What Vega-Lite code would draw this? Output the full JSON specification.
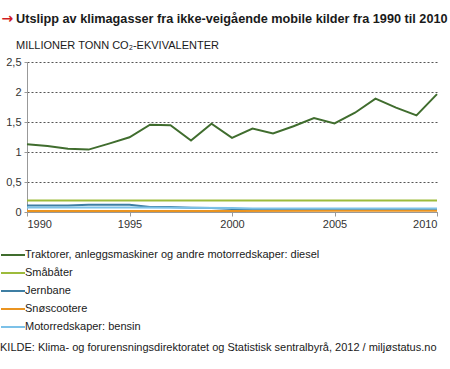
{
  "$schema": "https://vega.github.io/schema/vega-lite/v6.json",
  "width": 410,
  "height": 150,
  "autosize": {"type": "none"},
  "padding": {"left": 27, "top": 62, "right": 13, "bottom": 157},
  "background": "white",
  "config": {
    "font": "Liberation Sans",
    "view": {"stroke": null}
  },
  "title": {
    "text": "Utslipp av klimagasser fra ikke-veigående mobile kilder fra 1990 til 2010",
    "subtitle": "MILLIONER TONN CO₂-EKVIVALENTER",
    "anchor": "start",
    "frame": "bounds",
    "dx": 16,
    "fontSize": 12.7,
    "fontWeight": "bold",
    "color": "#1a1a1a",
    "limit": 1000,
    "subtitleFontSize": 11,
    "subtitleColor": "#1a1a1a",
    "subtitlePadding": 14,
    "offset": -40
  },
  "data": {
    "values": [
      {"year": 1990, "series": "Traktorer, anleggsmaskiner og andre motorredskaper: diesel", "value": 1.13},
      {"year": 1991, "series": "Traktorer, anleggsmaskiner og andre motorredskaper: diesel", "value": 1.10},
      {"year": 1992, "series": "Traktorer, anleggsmaskiner og andre motorredskaper: diesel", "value": 1.055},
      {"year": 1993, "series": "Traktorer, anleggsmaskiner og andre motorredskaper: diesel", "value": 1.04},
      {"year": 1994, "series": "Traktorer, anleggsmaskiner og andre motorredskaper: diesel", "value": 1.14},
      {"year": 1995, "series": "Traktorer, anleggsmaskiner og andre motorredskaper: diesel", "value": 1.245},
      {"year": 1996, "series": "Traktorer, anleggsmaskiner og andre motorredskaper: diesel", "value": 1.455},
      {"year": 1997, "series": "Traktorer, anleggsmaskiner og andre motorredskaper: diesel", "value": 1.445},
      {"year": 1998, "series": "Traktorer, anleggsmaskiner og andre motorredskaper: diesel", "value": 1.19},
      {"year": 1999, "series": "Traktorer, anleggsmaskiner og andre motorredskaper: diesel", "value": 1.47},
      {"year": 2000, "series": "Traktorer, anleggsmaskiner og andre motorredskaper: diesel", "value": 1.235},
      {"year": 2001, "series": "Traktorer, anleggsmaskiner og andre motorredskaper: diesel", "value": 1.39},
      {"year": 2002, "series": "Traktorer, anleggsmaskiner og andre motorredskaper: diesel", "value": 1.31},
      {"year": 2003, "series": "Traktorer, anleggsmaskiner og andre motorredskaper: diesel", "value": 1.43},
      {"year": 2004, "series": "Traktorer, anleggsmaskiner og andre motorredskaper: diesel", "value": 1.565},
      {"year": 2005, "series": "Traktorer, anleggsmaskiner og andre motorredskaper: diesel", "value": 1.475},
      {"year": 2006, "series": "Traktorer, anleggsmaskiner og andre motorredskaper: diesel", "value": 1.655},
      {"year": 2007, "series": "Traktorer, anleggsmaskiner og andre motorredskaper: diesel", "value": 1.89},
      {"year": 2008, "series": "Traktorer, anleggsmaskiner og andre motorredskaper: diesel", "value": 1.74},
      {"year": 2009, "series": "Traktorer, anleggsmaskiner og andre motorredskaper: diesel", "value": 1.61},
      {"year": 2010, "series": "Traktorer, anleggsmaskiner og andre motorredskaper: diesel", "value": 1.965},
      {"year": 1990, "series": "Småbåter", "value": 0.19},
      {"year": 1995, "series": "Småbåter", "value": 0.19},
      {"year": 2000, "series": "Småbåter", "value": 0.19},
      {"year": 2005, "series": "Småbåter", "value": 0.19},
      {"year": 2010, "series": "Småbåter", "value": 0.19},
      {"year": 1990, "series": "Jernbane", "value": 0.11},
      {"year": 1991, "series": "Jernbane", "value": 0.11},
      {"year": 1992, "series": "Jernbane", "value": 0.11},
      {"year": 1993, "series": "Jernbane", "value": 0.122},
      {"year": 1994, "series": "Jernbane", "value": 0.122},
      {"year": 1995, "series": "Jernbane", "value": 0.122},
      {"year": 1996, "series": "Jernbane", "value": 0.085},
      {"year": 1997, "series": "Jernbane", "value": 0.082},
      {"year": 1998, "series": "Jernbane", "value": 0.07},
      {"year": 1999, "series": "Jernbane", "value": 0.065},
      {"year": 2000, "series": "Jernbane", "value": 0.05},
      {"year": 2001, "series": "Jernbane", "value": 0.035},
      {"year": 2002, "series": "Jernbane", "value": 0.035},
      {"year": 2003, "series": "Jernbane", "value": 0.035},
      {"year": 2004, "series": "Jernbane", "value": 0.035},
      {"year": 2005, "series": "Jernbane", "value": 0.035},
      {"year": 2006, "series": "Jernbane", "value": 0.035},
      {"year": 2007, "series": "Jernbane", "value": 0.035},
      {"year": 2008, "series": "Jernbane", "value": 0.035},
      {"year": 2009, "series": "Jernbane", "value": 0.035},
      {"year": 2010, "series": "Jernbane", "value": 0.035},
      {"year": 1990, "series": "Snøscootere", "value": 0.015},
      {"year": 1995, "series": "Snøscootere", "value": 0.015},
      {"year": 2000, "series": "Snøscootere", "value": 0.015},
      {"year": 2005, "series": "Snøscootere", "value": 0.02},
      {"year": 2010, "series": "Snøscootere", "value": 0.02},
      {"year": 1990, "series": "Motorredskaper: bensin", "value": 0.075},
      {"year": 1995, "series": "Motorredskaper: bensin", "value": 0.075},
      {"year": 2000, "series": "Motorredskaper: bensin", "value": 0.065},
      {"year": 2001, "series": "Motorredskaper: bensin", "value": 0.058},
      {"year": 2005, "series": "Motorredskaper: bensin", "value": 0.058},
      {"year": 2010, "series": "Motorredskaper: bensin", "value": 0.058}
    ]
  },
  "mark": {"type": "line", "strokeWidth": 2, "clip": false},
  "encoding": {
    "x": {
      "field": "year",
      "type": "quantitative",
      "scale": {"domain": [1990, 2010], "nice": false, "zero": false},
      "axis": {
        "values": [1990, 1995, 2000, 2005, 2010],
        "format": "d",
        "grid": false,
        "domain": true,
        "domainColor": "#999999",
        "tickColor": "#999999",
        "tickSize": 4,
        "labelFontSize": 11,
        "labelColor": "#333333",
        "labelPadding": 2,
        "title": "→",
        "titleFont": "DejaVu Sans",
        "titleColor": "#d01c24",
        "titleFontSize": 14,
        "titleFontWeight": "bold",
        "titleAlign": "left",
        "titleBaseline": "alphabetic",
        "titleX": -26,
        "titleY": -190
      }
    },
    "y": {
      "field": "value",
      "type": "quantitative",
      "scale": {"domain": [0, 2.5], "nice": false},
      "axis": {
        "values": [0, 0.5, 1, 1.5, 2, 2.5],
        "format": "~g",
        "labelExpr": "replace(datum.label, '.', ',')",
        "grid": true,
        "gridDash": [2, 2],
        "gridColor": "#555555",
        "gridWidth": 1,
        "domainColor": "#999999",
        "tickColor": "#999999",
        "tickSize": 3,
        "labelFontSize": 11,
        "labelColor": "#333333",
        "labelPadding": 3,
        "title": null
      }
    },
    "color": {
      "field": "series",
      "type": "nominal",
      "scale": {
        "domain": ["Traktorer, anleggsmaskiner og andre motorredskaper: diesel", "Småbåter", "Jernbane", "Snøscootere", "Motorredskaper: bensin"],
        "range": ["#406d2e", "#9dbb3b", "#3e7ea3", "#ea9420", "#7cc1e8"]
      },
      "legend": {
        "orient": "none",
        "legendX": -27,
        "legendY": 180,
        "direction": "vertical",
        "symbolType": "stroke",
        "symbolSize": 576,
        "symbolStrokeWidth": 2,
        "labelOffset": -1,
        "labelFontSize": 11,
        "labelColor": "#1a1a1a",
        "labelLimit": 500,
        "rowPadding": -4.3,
        "title": "KILDE: Klima- og forurensningsdirektoratet og Statistisk sentralbyrå, 2012 / miljøstatus.no",
        "titleOrient": "bottom",
        "titleFontWeight": "normal",
        "titleFontSize": 11,
        "titleColor": "#1a1a1a",
        "titleLimit": 600,
        "titlePadding": 10
      }
    }
  }
}
